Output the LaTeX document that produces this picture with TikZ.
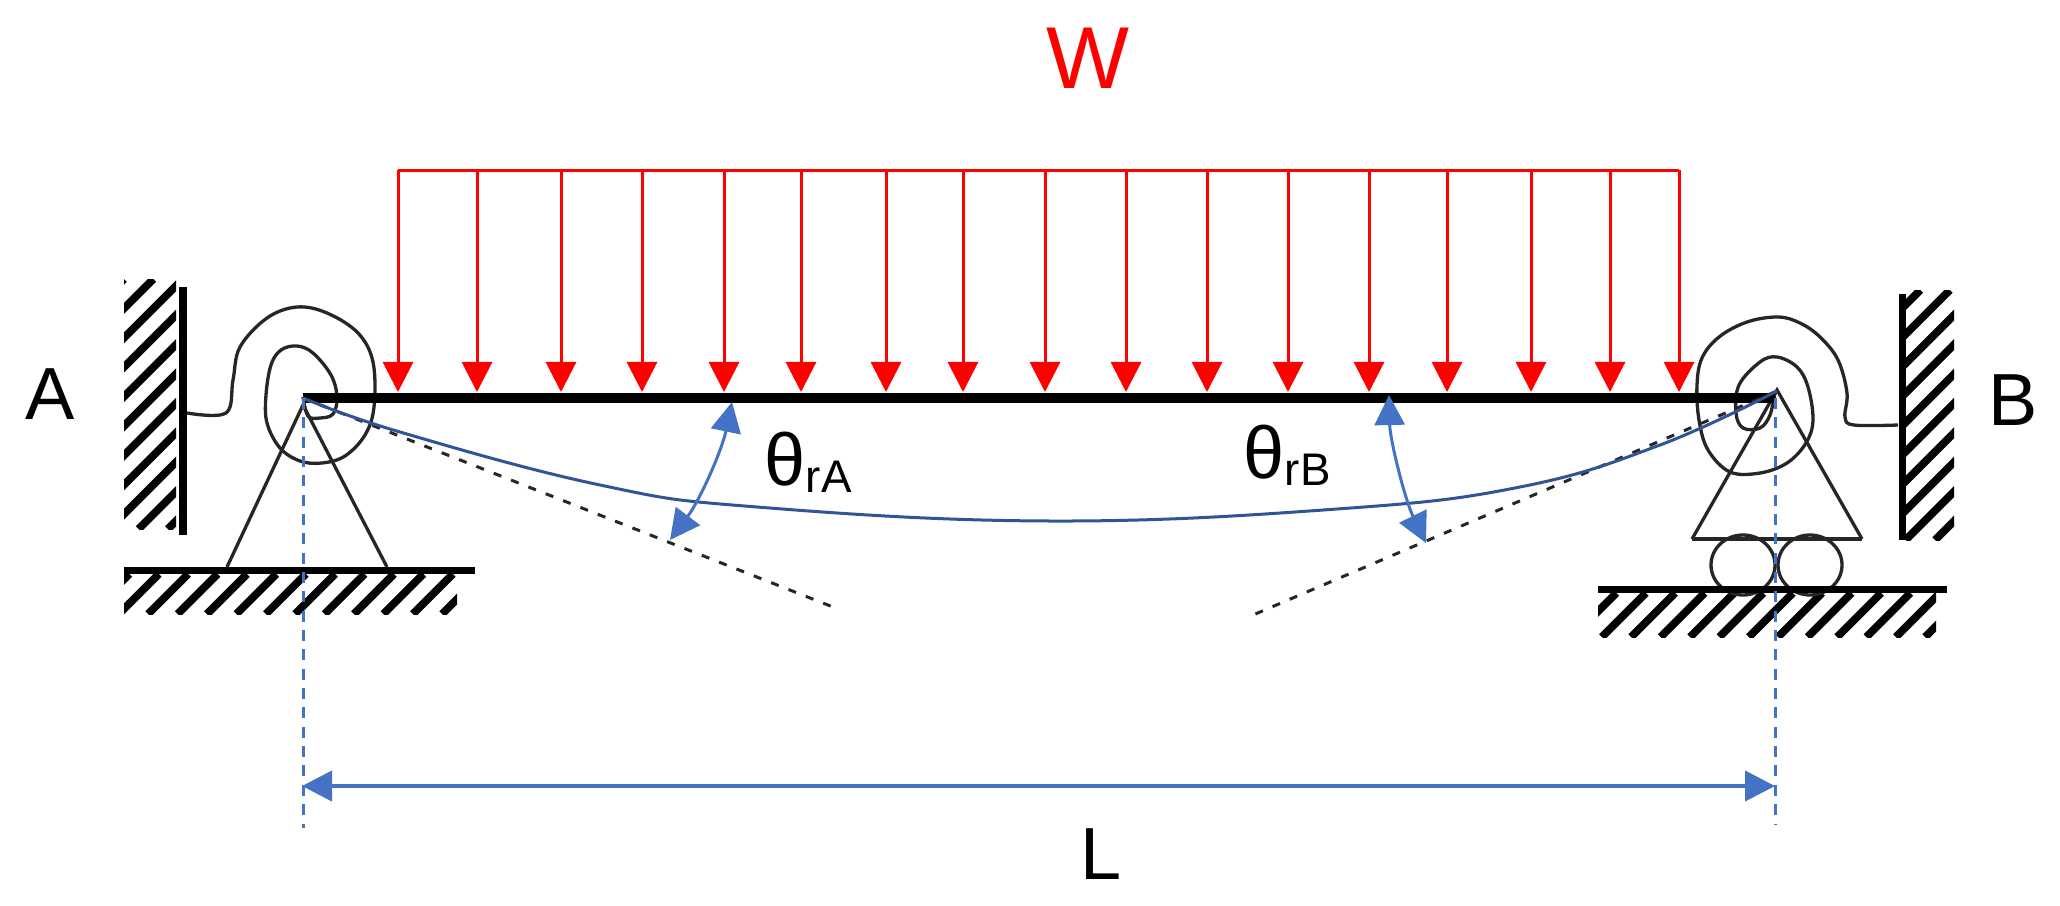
\documentclass[tikz,border=0pt]{standalone}
\usepackage{fontspec}
\setmainfont{Liberation Sans}
\usetikzlibrary{arrows.meta}
\definecolor{dimblue}{HTML}{4472C4}
\definecolor{curveblue}{HTML}{2F5597}
\def\hatchbox(#1,#2)(#3,#4)(#5){\begin{scope}
	\clip (#1,#2) rectangle (#3,#4);
	\foreach \k in {0,...,14} {
		\pgfmathsetmacro\hatchpos{#5+29.4*\k}
		\draw[line width=0.78mm] (\hatchpos-#4,#4) -- (\hatchpos-#2,#2);
	}
\end{scope}}
\tikzset{
	loadarrow/.style={red, line width=0.3mm, -{Triangle[length=3mm,width=3mm]}},
	dimarrow/.style={dimblue, line width=0.3mm, {Triangle[length=3mm,width=3mm]}-{Triangle[length=3mm,width=3mm]}},
	dimguide/.style={dimblue, line width=0.3mm, dash pattern=on 3.1pt off 2.4pt},
	tangentline/.style={black!85, line width=0.3mm, dash pattern=on 2.3pt off 3pt},
	springline/.style={black!85, line width=0.33mm},
	pinline/.style={black!85, line width=0.33mm},
	biglabel/.style={inner sep=0pt, font=\fontsize{21}{21}\selectfont},
	anglelabel/.style={inner sep=0pt, anchor=base west, font=\fontsize{21}{21}\selectfont}
}

\begin{document}
\begin{tikzpicture}[x=0.01cm, y=-0.01cm]
	\useasboundingbox (0,0) rectangle (2060,906);
	%%%%% START %%%%%

	\coordinate (pivotA) at (303,398);
	\coordinate (pivotB) at (1775,398);
	\coordinate (curveB) at (1777,391);

	% walls and ground
	\hatchbox(124,279)(176,529)(403)
	\draw[line width=0.7mm] (183,287) -- (183,535);
	\hatchbox(124,574)(457,614)(674)
	\draw[line width=0.7mm] (124,570.5) -- (475,570.5);
	\hatchbox(1906,290)(1954,540)(2181)
	\draw[line width=0.7mm] (1902,294) -- (1902,540);
	\hatchbox(1598,593)(1936,637)(2180)

	% supports
	\draw[pinline] (227,567) -- (303,405) -- (387,567);
	\draw[pinline] (1692,539) -- (1777,390) -- (1862,539);
	\draw[pinline] (1692,539) -- (1862,539);
	\draw[pinline] (1743,565) ellipse (32 and 30);
	\draw[pinline] (1810,565) ellipse (32 and 30);
	\draw[line width=0.7mm] (1598,589) -- (1947,589);

	% springs
	\draw[springline] plot[smooth, tension=0.6] coordinates {(187,413) (226,413) (233,380) (240,347) (267,318) (297,307) (327,313) (358,333) (373,362) (374,407) (365,435) (345,456) (322,463) (300,461) (280,448) (267,423) (266,395) (271,365) (281,350) (297,346) (313,353) (331,375) (337,397) (333,414) (320,418) (308,416) (303,397)};
	\draw[springline] plot[smooth, tension=0.6] coordinates {(1898,425) (1854,425) (1845,417) (1847,393) (1838,360) (1820,337) (1800,323) (1778,317) (1747,322) (1719,337) (1702,358) (1697,385) (1699,420) (1708,450) (1730,472) (1760,473) (1787,463) (1806,443) (1813,420) (1808,387) (1797,367) (1777,357) (1760,362) (1739,385) (1736,413) (1743,428) (1760,428) (1770,415) (1775,392)};

	% beam and deflected shape
	\draw[line width=1mm] (pivotA) -- (pivotB);
	\draw[tangentline] (pivotA) -- (838,609);
	\draw[tangentline] (curveB) -- (1253,615);
	\draw[curveblue, line width=0.3mm] plot[smooth, tension=0.7] coordinates {(pivotA) (400,432) (600,485) (757,507) (1050,521) (1337,509) (1520,487) (1660,445) (curveB)};

	% distributed load
	\draw[red, line width=0.3mm] (398,170) -- (1679,170);
	\draw[loadarrow] (398,170) -- (398,392);
	\draw[loadarrow] (477,170) -- (477,392);
	\draw[loadarrow] (561,170) -- (561,392);
	\draw[loadarrow] (642,170) -- (642,392);
	\draw[loadarrow] (724,170) -- (724,392);
	\draw[loadarrow] (801,170) -- (801,392);
	\draw[loadarrow] (886,170) -- (886,392);
	\draw[loadarrow] (963,170) -- (963,392);
	\draw[loadarrow] (1045,170) -- (1045,392);
	\draw[loadarrow] (1126,170) -- (1126,392);
	\draw[loadarrow] (1207,170) -- (1207,392);
	\draw[loadarrow] (1288,170) -- (1288,392);
	\draw[loadarrow] (1369,170) -- (1369,392);
	\draw[loadarrow] (1447,170) -- (1447,392);
	\draw[loadarrow] (1531,170) -- (1531,392);
	\draw[loadarrow] (1610,170) -- (1610,392);
	\draw[loadarrow] (1679,170) -- (1679,392);

	% rotations and span
	\draw[dimarrow] (670,540) .. controls (700,500) and (722,450) .. (732,402);
	\draw[dimarrow] (1426,543) .. controls (1405,500) and (1390,440) .. (1389,395);
	\draw[dimguide] (pivotA) -- (303,828);
	\draw[dimguide] (pivotB) -- (1775,824);
	\draw[dimarrow, line width=0.4mm] (302,786) -- (1775,786);

	% labels
	\node[biglabel, red, font=\fontsize{25}{26}\selectfont] (loadW) at (1088,58) {W};
	\node[biglabel] (endA) at (50,394) {A};
	\node[biglabel] (endB) at (2013,400) {B};
	\node[biglabel] (spanL) at (1101,854) {L};
	\node[anglelabel] (thetaA) at (764,485) {θ\raisebox{-2pt}{\fontsize{13}{13}\selectfont rA}};
	\node[anglelabel] (thetaB) at (1243,478) {θ\raisebox{-2pt}{\fontsize{13}{13}\selectfont rB}};

	%%%%% END %%%%%
\end{tikzpicture}
\end{document}
